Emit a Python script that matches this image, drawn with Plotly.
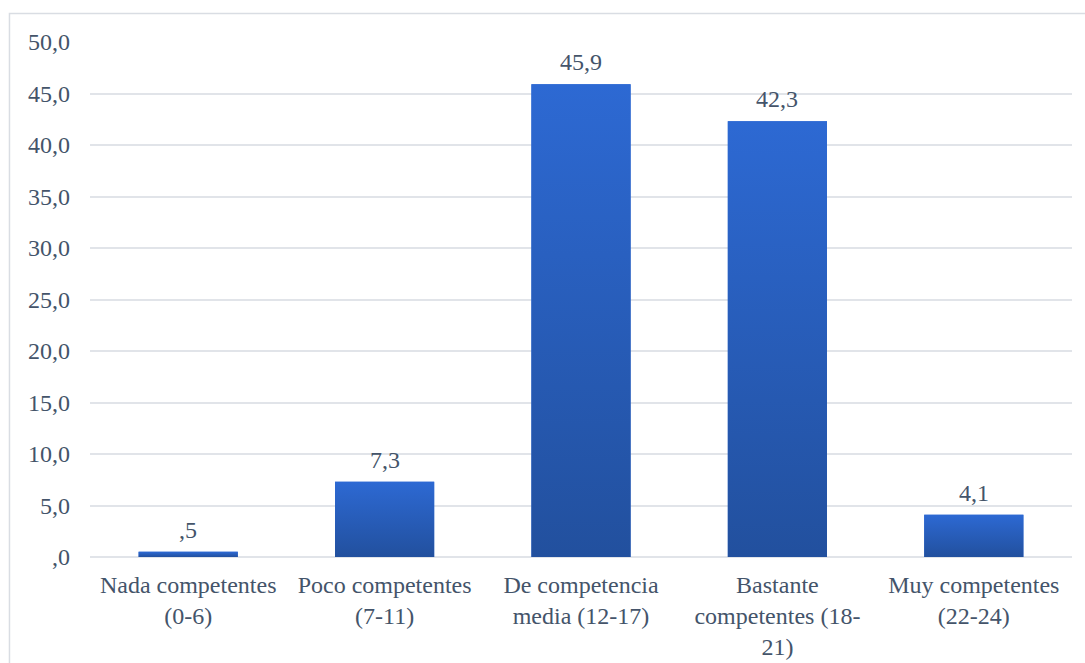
import plotly.graph_objects as go

# Niveles de competencia y porcentaje de participantes
categorias = [
    "Nada competentes<br>(0-6)",
    "Poco competentes<br>(7-11)",
    "De competencia<br>media (12-17)",
    "Bastante<br>competentes (18-<br>21)",
    "Muy competentes<br>(22-24)",
]
porcentajes = [0.5, 7.3, 45.9, 42.3, 4.1]
ticks_y = [0, 5, 10, 15, 20, 25, 30, 35, 40, 45, 50]

FONT = "Times New Roman"
FONT_SIZE = 24
TEXT_COLOR = "#44546A"
GRID_COLOR = "#E1E4E9"
BAR_TOP = "#2D69D3"
BAR_BOTTOM = "#22509E"
ANCHO = 0.505


def fmt(v):
    """Decimal con coma, sin cero inicial (estilo SPSS)."""
    s = f"{v:.1f}".replace(".", ",")
    if s.startswith("0,"):
        s = s[1:]
    return s


xs = list(range(len(categorias)))
fig = go.Figure()

# Barras base
fig.add_trace(go.Bar(
    x=xs, y=porcentajes, width=ANCHO,
    marker=dict(color=BAR_TOP, line=dict(width=0)),
    hoverinfo="skip", showlegend=False,
))

# Relleno con degradado vertical para cada barra
for i, v in zip(xs, porcentajes):
    x0, x1 = i - ANCHO / 2, i + ANCHO / 2
    fig.add_trace(go.Scatter(
        x=[x0, x1, x1, x0, x0], y=[0, 0, v, v, 0],
        mode="lines", line=dict(width=0), fill="toself",
        fillgradient=dict(type="vertical",
                          colorscale=[[0, BAR_BOTTOM], [1, BAR_TOP]]),
        hoverinfo="skip", showlegend=False,
    ))

# Etiquetas de datos
for i, v in zip(xs, porcentajes):
    fig.add_annotation(
        x=i, y=v, text=fmt(v), showarrow=False,
        yanchor="bottom", yshift=7,
        font=dict(family=FONT, size=FONT_SIZE, color=TEXT_COLOR),
    )

# Marco del gráfico
fig.add_shape(
    type="rect", xref="paper", yref="paper",
    x0=-0.082, x1=1.03, y0=-0.25, y1=1.0553,
    line=dict(color="#D9DDE3", width=1.5), layer="below",
)

fig.update_layout(
    width=1085, height=663,
    margin=dict(l=90, r=13, t=42, b=106),
    paper_bgcolor="white", plot_bgcolor="white",
    font=dict(family=FONT, size=FONT_SIZE, color=TEXT_COLOR),
    bargap=0.495,
)
fig.update_xaxes(
    range=[-0.5, len(categorias) - 0.5],
    tickvals=xs, ticktext=categorias,
    showgrid=False, zeroline=False, showline=False, ticks="",
    ticklabelstandoff=11, automargin=False,
    tickfont=dict(family=FONT, size=FONT_SIZE, color=TEXT_COLOR),
)
fig.update_yaxes(
    range=[0, 50], tickvals=ticks_y, ticktext=[fmt(t) for t in ticks_y],
    showgrid=True, gridcolor=GRID_COLOR, gridwidth=1.5,
    zeroline=True, zerolinecolor=GRID_COLOR, zerolinewidth=1.5,
    showline=False, ticks="", ticklabelstandoff=19, automargin=False,
    tickfont=dict(family=FONT, size=FONT_SIZE, color=TEXT_COLOR),
)

fig.write_html("out.html")
